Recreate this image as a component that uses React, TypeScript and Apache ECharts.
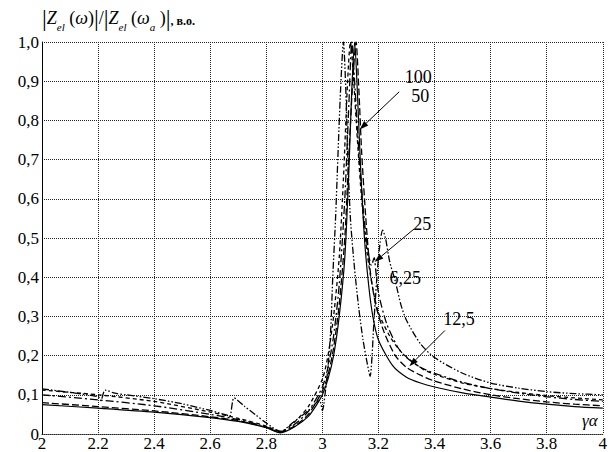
import React, { useEffect, useRef } from "react";
import * as echarts from "echarts";

// |Z_el(ω)| / |Z_el(ω_a)| versus γα, for five parameter values
const curve100: [number, number][] = [
  [2, 0.075], [2.2, 0.066], [2.4, 0.056], [2.6, 0.042], [2.7, 0.032], [2.8, 0.016], [2.85, 0.003],
  [2.9, 0.018], [2.95, 0.045], [2.98, 0.075], [3.0, 0.1], [3.02, 0.14], [3.04, 0.2], [3.06, 0.3],
  [3.08, 0.45], [3.095, 0.68], [3.105, 0.88], [3.115, 1.0], [3.125, 0.87], [3.135, 0.7], [3.15, 0.5],
  [3.165, 0.38], [3.18, 0.3], [3.2, 0.24], [3.25, 0.175], [3.3, 0.145], [3.35, 0.13], [3.4, 0.12],
  [3.5, 0.105], [3.6, 0.094], [3.7, 0.084], [3.8, 0.076], [3.9, 0.07], [4, 0.066],
];
const curve50: [number, number][] = [
  [2, 0.08], [2.2, 0.07], [2.4, 0.059], [2.6, 0.044], [2.7, 0.034], [2.8, 0.017], [2.85, 0.004],
  [2.9, 0.02], [2.95, 0.05], [3.0, 0.11], [3.02, 0.15], [3.04, 0.22], [3.06, 0.33], [3.08, 0.5],
  [3.095, 0.72], [3.11, 0.92], [3.12, 1.0], [3.13, 0.88], [3.14, 0.72], [3.155, 0.55], [3.17, 0.42],
  [3.19, 0.33], [3.22, 0.26], [3.26, 0.2], [3.3, 0.17], [3.35, 0.15], [3.4, 0.135], [3.5, 0.115],
  [3.6, 0.1], [3.7, 0.09], [3.8, 0.082], [3.9, 0.076], [4, 0.072],
];
const curve25: [number, number][] = [
  [2, 0.1], [2.2, 0.087], [2.4, 0.072], [2.6, 0.05], [2.7, 0.037], [2.8, 0.018], [2.85, 0.005],
  [2.9, 0.024], [2.95, 0.058], [3.0, 0.12], [3.02, 0.17], [3.04, 0.25], [3.06, 0.38], [3.08, 0.6],
  [3.095, 0.85], [3.105, 1.0], [3.115, 0.9], [3.13, 0.72], [3.145, 0.58], [3.16, 0.48], [3.175, 0.43],
  [3.185, 0.45], [3.19, 0.42], [3.2, 0.36], [3.23, 0.28], [3.27, 0.22], [3.3, 0.195], [3.35, 0.17],
  [3.4, 0.155], [3.5, 0.132], [3.6, 0.116], [3.7, 0.104], [3.8, 0.095], [3.9, 0.088], [4, 0.083],
];
const curve12_5: [number, number][] = [
  [2, 0.112], [2.2, 0.1], [2.4, 0.083], [2.6, 0.056], [2.7, 0.04], [2.8, 0.02], [2.85, 0.006],
  [2.9, 0.03], [2.95, 0.07], [3.0, 0.14], [3.02, 0.2], [3.04, 0.3], [3.06, 0.45], [3.075, 0.65],
  [3.09, 0.9], [3.1, 1.0], [3.11, 0.92], [3.125, 0.75], [3.14, 0.6], [3.16, 0.46], [3.18, 0.37],
  [3.2, 0.31], [3.24, 0.25], [3.28, 0.21], [3.32, 0.185], [3.36, 0.165], [3.4, 0.152], [3.5, 0.13],
  [3.6, 0.116], [3.7, 0.106], [3.8, 0.098], [3.9, 0.092], [4, 0.087],
];
const curve6_25: [number, number][] = [
  [2, 0.115], [2.1, 0.106], [2.2, 0.095], [2.21, 0.085], [2.225, 0.112], [2.26, 0.104], [2.3, 0.1],
  [2.4, 0.09], [2.5, 0.077], [2.6, 0.06], [2.66, 0.048], [2.67, 0.045], [2.685, 0.092], [2.72, 0.072],
  [2.76, 0.05], [2.8, 0.028], [2.85, 0.007], [2.9, 0.032], [2.95, 0.06], [2.99, 0.085], [3.0, 0.06],
  [3.005, 0.075], [3.02, 0.17], [3.03, 0.27], [3.037, 0.4], [3.047, 0.55], [3.055, 0.7], [3.065, 0.88],
  [3.075, 1.0], [3.085, 0.85], [3.09, 0.72], [3.1, 0.55], [3.115, 0.42], [3.13, 0.32], [3.145, 0.24],
  [3.16, 0.18], [3.17, 0.147], [3.185, 0.3], [3.2, 0.45], [3.215, 0.52], [3.225, 0.5], [3.24, 0.44],
  [3.26, 0.39], [3.28, 0.33], [3.3, 0.29], [3.35, 0.23], [3.4, 0.195], [3.5, 0.155], [3.6, 0.13],
  [3.7, 0.117], [3.8, 0.108], [3.9, 0.103], [4, 0.1],
];

const seriesNames = ["100", "50", "25", "12,5", "6,25"];
const seriesData = [curve100, curve50, curve25, curve12_5, curve6_25];
const dashStyles: any[] = ["solid", [7, 3], [8, 3, 2, 3], [4, 3], [7, 2, 1.5, 2, 1.5, 2]];

// annotation labels and arrows (data coordinates)
const labelTexts = ["100", "50", "25", "6,25", "12,5"];
const labelPos: [number, number][] = [
  [3.342, 0.911], [3.349, 0.863], [3.356, 0.536], [3.296, 0.398], [3.487, 0.294],
];
const arrows: [[number, number], [number, number]][] = [
  [[3.274, 0.873], [3.133, 0.777]],
  [[3.327, 0.523], [3.186, 0.439]],
  [[3.437, 0.264], [3.31, 0.173]],
];

const FONT = "Liberation Serif";

export default function App() {
  const ref = useRef<HTMLDivElement>(null);
  useEffect(() => {
    document.body.style.margin = "0";
    const chart = echarts.init(ref.current!, null, { renderer: "svg" });
    const gridLine = { color: "#222", type: [1, 1] as any, width: 1 };
    const labelStyle = { fontFamily: FONT, fontSize: 17, color: "#000" };
    chart.setOption({
      animation: false,
      backgroundColor: "#fff",
      textStyle: { fontFamily: FONT },
      grid: { left: 42, right: 3, top: 42, bottom: 16, containLabel: false },
      xAxis: {
        type: "value",
        min: 2,
        max: 4,
        interval: 0.2,
        axisLine: { show: true, lineStyle: gridLine },
        axisTick: { show: false },
        splitLine: { show: true, lineStyle: gridLine },
        axisLabel: {
          ...labelStyle,
          margin: 1,
          formatter: (v: number) => (Math.abs(v - Math.round(v)) < 1e-6 ? String(Math.round(v)) : v.toFixed(1)),
        },
      },
      yAxis: {
        type: "value",
        min: 0,
        max: 1,
        interval: 0.1,
        axisLine: { show: true, lineStyle: { color: "#000", width: 1 } },
        axisTick: { show: false },
        splitLine: { show: true, lineStyle: gridLine },
        axisLabel: {
          ...labelStyle,
          margin: 3,
          formatter: (v: number) => (v === 0 ? "0" : v.toFixed(1).replace(".", ",")),
        },
      },
      series: seriesData.map((d, i) => ({
        name: seriesNames[i],
        type: "line",
        data: d,
        showSymbol: false,
        smooth: 0.25,
        lineStyle: { color: "#000", width: i === 0 ? 1.2 : 1.3, type: dashStyles[i] },
        z: 3,
      })),
    });

    const px = (p: [number, number]) => chart.convertToPixel({ gridIndex: 0 }, p) as number[];
    const graphics: any[] = [];
    labelTexts.forEach((t, i) => {
      const [x, y] = px(labelPos[i]);
      graphics.push({
        type: "text",
        x,
        y,
        z: 10,
        style: {
          text: t,
          fontFamily: FONT,
          fontSize: 18,
          fill: "#000",
          align: "center",
          verticalAlign: "middle",
        },
      });
    });
    arrows.forEach(([a, b]) => {
      const [x1, y1] = px(a);
      const [x2, y2] = px(b);
      const dx = x2 - x1, dy = y2 - y1;
      const len = Math.hypot(dx, dy);
      const ux = dx / len, uy = dy / len;
      const hl = 9, hw = 3;
      const bx = x2 - ux * hl, by = y2 - uy * hl;
      graphics.push({
        type: "line",
        z: 10,
        shape: { x1, y1, x2: bx, y2: by },
        style: { stroke: "#000", lineWidth: 1 },
      });
      graphics.push({
        type: "polygon",
        z: 10,
        shape: {
          points: [
            [x2, y2],
            [bx - uy * hw, by + ux * hw],
            [bx + uy * hw, by - ux * hw],
          ],
        },
        style: { fill: "#000" },
      });
    });
    const base = { fontFamily: FONT, fill: "#000", lineHeight: 28 };
    // title (y-axis quantity)
    graphics.push({
      type: "text",
      left: 42,
      top: 6,
      z: 10,
      style: {
        text:
          "{bar|\u007C}{z|Z}{sub|el}{n| (}{w|ω}{n|)}{bar|\u007C}{n|/}{bar|\u007C}{z|Z}{sub|el}{n| (}{w|ω}{sub|a}{n| )}{bar|\u007C}{b|, в.о.}",
        fontFamily: FONT,
        rich: {
          bar: { ...base, fontSize: 24, verticalAlign: "middle" },
          z: { ...base, fontSize: 18, fontStyle: "italic", verticalAlign: "middle" },
          sub: { ...base, fontSize: 11, fontStyle: "italic", verticalAlign: "bottom", padding: [10, 0, 0, 0] },
          n: { ...base, fontSize: 18, verticalAlign: "middle" },
          w: { ...base, fontSize: 18, fontStyle: "italic", verticalAlign: "middle" },
          b: { ...base, fontSize: 12, fontWeight: "bold", verticalAlign: "middle", padding: [6, 0, 0, 0] },
        },
      },
    });
    // x-axis quantity
    graphics.push({
      type: "text",
      left: 582,
      top: 412,
      z: 10,
      style: { text: "γα", fontFamily: FONT, fontSize: 17, fontStyle: "italic", fill: "#000" },
    });
    chart.setOption({ graphic: graphics });
    return () => chart.dispose();
  }, []);
  return (
    <div
      ref={ref}
      style={{ width: 610, height: 452, position: "absolute", left: 0, top: 0 }}
    />
  );
}
